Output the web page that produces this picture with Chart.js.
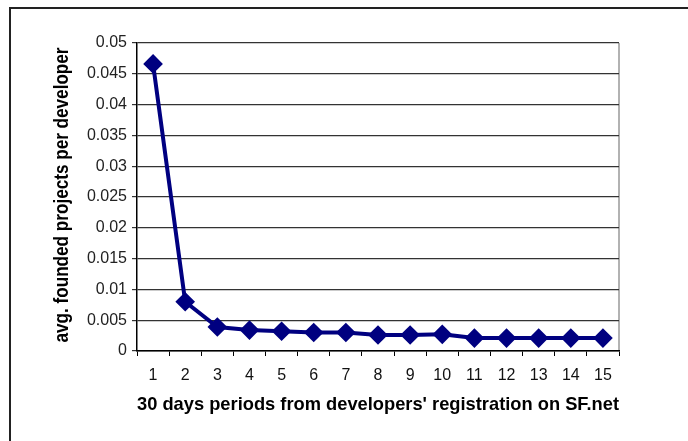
<!DOCTYPE html>
<html>
<head>
<meta charset="utf-8">
<script src="https://cdn.jsdelivr.net/npm/chart.js@4"></script>
<style>
  html, body { margin: 0; padding: 0; background: #fff; }
  #wrap { width: 688px; height: 441px; }
</style>
</head>
<body>
<div id="wrap"><canvas id="myChart" width="688" height="441"></canvas></div>
<script>
// periods after registration (30 days each)
let periods = ['1', '2', '3', '4', '5', '6', '7', '8', '9', '10', '11', '12', '13', '14', '15'];
let avgProjects = [0.0466, 0.0080, 0.0039, 0.0034, 0.0032, 0.0030, 0.0030, 0.0026, 0.0026, 0.0027, 0.0021, 0.0021, 0.0021, 0.0021, 0.0021];
let yTicks = [0, 0.005, 0.01, 0.015, 0.02, 0.025, 0.03, 0.035, 0.04, 0.045, 0.05];
let yTitle = 'avg. founded projects per developer';

// outer frame, gray plot border on the right, narrow y title
const frame = {
    id: 'frame',
    beforeDraw(chart) {
        const c = chart.ctx;
        const a = chart.chartArea;
        c.save();
        c.fillStyle = '#fff';
        c.fillRect(0, 0, chart.width, chart.height);
        c.strokeStyle = '#222';
        c.lineWidth = 2;
        c.strokeRect(10, 8, 1000, 1000);
        c.strokeStyle = '#999';
        c.lineWidth = 1.5;
        c.beginPath();
        c.moveTo(a.right, a.top);
        c.lineTo(a.right, a.bottom);
        c.stroke();

        // y title, squeezed like Arial Narrow
        c.font = 'bold 20px "Liberation Sans", Arial';
        c.fillStyle = '#000';
        c.textAlign = 'center';
        c.textBaseline = 'middle';
        const w = c.measureText(yTitle).width;
        const sx = 295 / w;
        c.translate(62, (a.top + a.bottom) / 2 - 2);
        c.rotate(-Math.PI / 2);
        c.scale(sx, 1);
        c.fillText(yTitle, 0, 0);
        c.restore();
    }
};

const ctx = document.getElementById('myChart');
new Chart(ctx, {
    type: 'line',
    data: {
        labels: periods,
        datasets: [{
            label: yTitle,
            data: avgProjects,
            borderColor: '#000080',
            backgroundColor: '#000080',
            borderWidth: 4,
            pointStyle: 'rectRot',
            pointRadius: 7,
            pointHoverRadius: 7,
            tension: 0
        }]
    },
    options: {
        responsive: false,
        animation: false,
        layout: { padding: { left: 0, right: 69, top: 43, bottom: 0 } },
        plugins: {
            legend: { display: false },
            tooltip: { enabled: false }
        },
        scales: {
            x: {
                offset: true,
                grid: { offset: true, drawOnChartArea: false, drawTicks: true, tickLength: 5, color: '#000' },
                border: { color: '#000', width: 1.5 },
                ticks: { color: '#111', padding: 10, font: { family: 'Liberation Sans, Arial', size: 16 } },
                title: {
                    display: true,
                    text: "30 days periods from developers' registration on SF.net",
                    color: '#000',
                    padding: { top: 4, bottom: 25 },
                    font: { family: 'Liberation Sans, Arial', size: 19, weight: 'bold' }
                },
                afterFit(scale) { scale.height = 90; }
            },
            y: {
                min: 0,
                max: 0.05,
                afterBuildTicks(scale) { scale.ticks = yTicks.map(v => ({ value: v })); },
                grid: { color: '#333', lineWidth: 1.2, tickLength: 5 },
                border: { color: '#000', width: 1.5 },
                ticks: {
                    color: '#222',
                    padding: 5,
                    font: { family: 'Liberation Sans, Arial', size: 16 },
                    callback: v => String(Number(v.toFixed(3)))
                },
                afterFit(scale) { scale.width = 137; }
            }
        }
    },
    plugins: [frame]
});
</script>
</body>
</html>
